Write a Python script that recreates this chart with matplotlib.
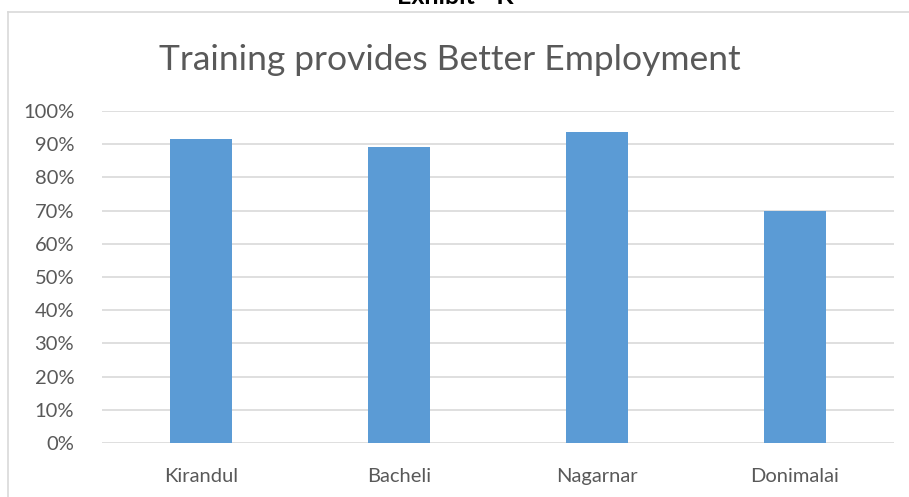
import matplotlib.pyplot as plt
import numpy as np
from matplotlib.lines import Line2D
from matplotlib.ticker import PercentFormatter

# --- data ---
sites = ["Kirandul", "Bacheli", "Nagarnar", "Donimalai"]
better_employment = [91.5, 89.3, 93.8, 70.0]
y_ticks = list(range(0, 101, 10))

bar_color = "#5b9bd5"
text_color = "#595959"
grid_color = "#d9d9d9"

plt.rcParams["font.family"] = ["Lato", "DejaVu Sans"]

fig = plt.figure(figsize=(9.09, 4.97), dpi=100)
W, H = 909, 497

# exhibit header, half cut off at the top edge
fig.text(455 / W, 1 - 4 / H, "Exhibit - K", ha="center", va="baseline",
         fontsize=18, fontweight="bold", color="black")

# chart frame (top and left edges visible)
fig.add_artist(Line2D([8 / W, 1.0], [1 - 12 / H, 1 - 12 / H], transform=fig.transFigure,
                      color=grid_color, lw=1.2))
fig.add_artist(Line2D([8 / W, 8 / W], [0.0, 1 - 12 / H], transform=fig.transFigure,
                      color=grid_color, lw=1.2))

ax = fig.add_axes([102 / W, 54 / H, 792 / W, 332 / H])
x = np.arange(len(sites))
ax.bar(x, better_employment, width=0.313, color=bar_color, zorder=3)

ax.set_xlim(-0.5, len(sites) - 0.5)
ax.set_ylim(0, 100)
ax.set_yticks(y_ticks)
ax.yaxis.set_major_formatter(PercentFormatter(decimals=0))
ax.set_xticks(x)
ax.set_xticklabels(sites)
ax.tick_params(axis="both", length=0, labelsize=14.5, colors=text_color)
ax.tick_params(axis="y", pad=20)
ax.tick_params(axis="x", pad=18)
ax.grid(axis="y", color=grid_color, lw=1.2)
for s in ax.spines.values():
    s.set_visible(False)

fig.text(450 / W, 1 - 60 / H, "Training provides Better Employment",
         ha="center", va="center", fontsize=25.5, color=text_color)

fig.savefig("out.png", dpi=100)
